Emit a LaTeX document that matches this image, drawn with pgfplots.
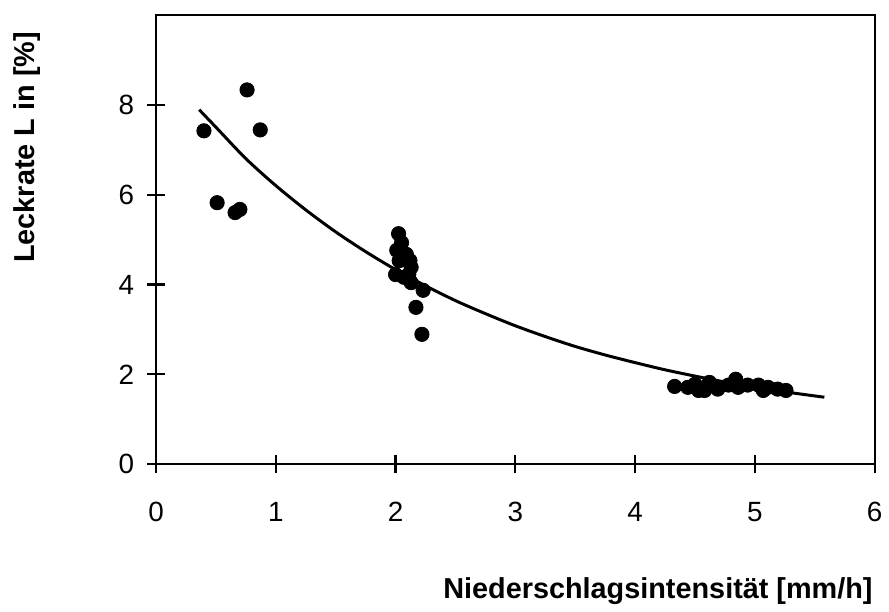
\documentclass[border=0pt]{standalone}
\usepackage{pgfplots}
\pgfplotsset{compat=1.18}
\usepackage{fontspec}
\setmainfont{Liberation Sans}

\begin{document}
\begin{tikzpicture}
\begin{axis}[
    name=ax,
    scale only axis,
    width=361.5pt, height=226pt,
    xmin=0, xmax=6,
    ymin=0, ymax=10,
    xtick={0,1,2,3,4,5,6},
    ytick={0,2,4,6,8},
    xtick pos=bottom, ytick pos=left,
    tick align=center,
    major tick length=9pt,
    axis line style={line width=1.1pt},
    tick style={line width=1.1pt, black},
    /pgf/number format/assume math mode=true,
    ticklabel style={font=\fontsize{14}{16}\selectfont},
    xticklabel style={yshift=-11pt},
    yticklabel style={xshift=-3pt},
    xlabel={Niederschlagsintensität [mm/h]},
    ylabel={Leckrate L in [\%]},
    xlabel style={font=\bfseries\fontsize{14.5}{17}\selectfont,
        at={(rel axis cs:1.0069,-0.2987)}, anchor=base east},
    ylabel style={font=\bfseries\fontsize{14.5}{17}\selectfont,
        at={(rel axis cs:-0.179,0.705)}, anchor=center},
]

% fitted curve
\addplot[black, line width=1.5pt, smooth, no marks] coordinates {
    (0.36,7.89)(0.50,7.50)(0.75,6.80)(1.00,6.20)(1.25,5.66)(1.50,5.17)
    (1.75,4.73)(2.00,4.33)(2.25,3.97)(2.50,3.64)(2.75,3.35)(3.00,3.08)
    (3.25,2.84)(3.50,2.62)(3.75,2.43)(4.00,2.26)(4.25,2.10)(4.50,1.96)
    (4.75,1.83)(5.00,1.72)(5.25,1.61)(5.58,1.49)
};

% measurements
\addplot[only marks, mark=*, mark size=3.6pt, black] coordinates {
    (0.40,7.42)(0.76,8.33)(0.87,7.44)(0.51,5.82)(0.66,5.60)(0.70,5.67)
    (2.025,5.13)(2.05,4.93)(2.01,4.76)(2.09,4.67)(2.12,4.53)(2.03,4.53)
    (2.13,4.38)(2.00,4.22)(2.11,4.22)(2.07,4.16)(2.13,4.04)(2.23,3.87)
    (2.17,3.49)(2.22,2.89)
    (4.33,1.73)(4.44,1.71)(4.50,1.78)(4.53,1.64)(4.58,1.64)(4.62,1.82)
    (4.69,1.67)(4.78,1.76)(4.84,1.89)(4.86,1.71)(4.94,1.76)(5.03,1.76)
    (5.07,1.64)(5.11,1.71)(5.19,1.67)(5.26,1.64)
};
\end{axis}
\path (ax.south west) ++(-78.5pt,-71.5pt) coordinate (bl);
\path (ax.south west) ++(366pt,233.5pt) coordinate (tr);
\path[use as bounding box] (bl) rectangle (tr);
\end{tikzpicture}
\end{document}
